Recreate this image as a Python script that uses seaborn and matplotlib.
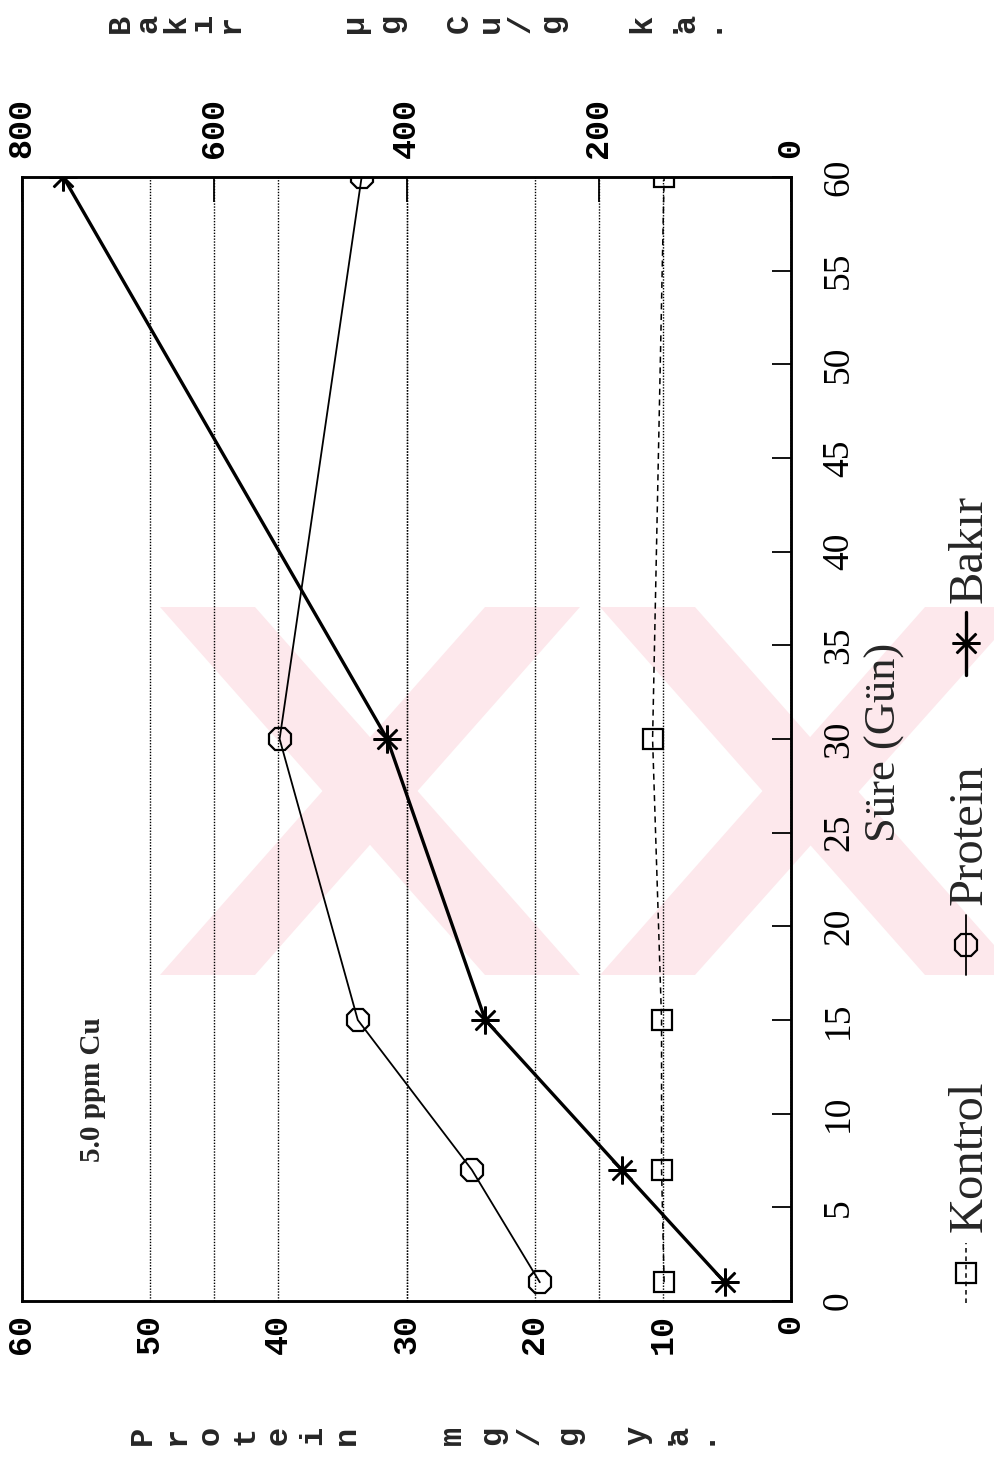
import matplotlib
matplotlib.use("Agg")
import matplotlib.pyplot as plt
from matplotlib.lines import Line2D
from matplotlib.patches import Polygon
from matplotlib.font_manager import FontProperties
import pandas as pd
import seaborn as sns

# Sampling days and measured values
days = [1, 7, 15, 30, 60]
protein = [19.6, 24.9, 33.8, 39.9, 33.5]      # Protein, mg/g y.a.
kontrol = [9.9, 10.1, 10.1, 10.8, 9.9]        # Kontrol protein, mg/g y.a.
bakir = [69, 176, 318, 420, 757]              # Bakır, µg Cu/g k.a.

protein_ticks = [0, 10, 20, 30, 40, 50, 60]
bakir_ticks = [0, 200, 400, 600, 800]
day_ticks = list(range(0, 65, 5))

sns.set_theme(style="white")
plt.rcParams["font.family"] = ["Liberation Serif", "DejaVu Serif"]

W, H = 994, 1460
fig = plt.figure(figsize=(W / 100, H / 100), dpi=100)
renderer = fig.canvas.get_renderer()


def fx(px):
    return px / W


def fy(py):
    return 1 - py / H


# Pale stamp in the background
stamp_color = "#fde8ec"
stamp_shapes = [
    [(160, 607), (255, 607), (580, 975), (485, 975)],
    [(485, 607), (580, 607), (255, 975), (160, 975)],
    [(600, 607), (695, 607), (994, 945), (994, 975), (925, 975)],
    [(925, 607), (994, 607), (994, 640), (695, 975), (600, 975)],
]
for pts in stamp_shapes:
    fig.add_artist(Polygon([(fx(x), fy(y)) for x, y in pts], closed=True,
                           transform=fig.transFigure, facecolor=stamp_color,
                           edgecolor="none", zorder=-5))

# The whole chart is laid out turned a quarter turn: days run upward on
# the right, protein / copper values run leftward.
ax = fig.add_axes([fx(22), fy(1301), fx(791 - 22), (1301 - 177) / H])
ax.set_facecolor("none")
ax.yaxis.tick_right()
ax2 = ax.twiny()
ax2.set_facecolor("none")

df = pd.DataFrame({"Gün": days, "Protein": protein,
                   "Kontrol": kontrol, "Bakır": bakir})

sns.lineplot(data=df, x="Kontrol", y="Gün", sort=False, estimator=None,
             orient="y", ax=ax, color="black", lw=1.1,
             linestyle=(0, (4, 3)), marker="s", markersize=14.5,
             markerfacecolor="none", markeredgecolor="black",
             markeredgewidth=1.6, zorder=3)
sns.lineplot(data=df, x="Protein", y="Gün", sort=False, estimator=None,
             orient="y", ax=ax, color="black", lw=1.3,
             marker="8", markersize=17, markerfacecolor="none",
             markeredgecolor="black", markeredgewidth=1.6, zorder=3)
sns.lineplot(data=df, x="Bakır", y="Gün", sort=False, estimator=None,
             orient="y", ax=ax2, color="black", lw=2.4,
             marker=(8, 2, 0), markersize=20, markeredgecolor="black",
             markeredgewidth=1.8, zorder=3)

ax.set_xlim(60, 0)
ax2.set_xlim(800, 0)
ax.set_ylim(0, 60)

mono = dict(family="Liberation Mono", weight="bold", size=24)

ax.set_xticks(protein_ticks)
ax.set_xticklabels([str(v) for v in protein_ticks], rotation=90, **mono)
ax.tick_params(axis="x", bottom=True, length=0, pad=9, colors="black")

ax2.set_xticks(bakir_ticks)
ax2.set_xticklabels([str(v) for v in bakir_ticks], rotation=90, **mono)
ax2.tick_params(axis="x", top=True, direction="in", length=18, width=1.3,
                pad=14, colors="black")

ax.set_yticks(day_ticks)
ax.set_yticklabels([str(v) for v in day_ticks], rotation=90, va="center",
                   family="Liberation Serif", size=27)
ax.tick_params(axis="y", right=True, left=False, direction="in", length=14,
               width=1.3, pad=22, colors="black")

for a in (ax, ax2):
    a.set_xlabel("")
    a.set_ylabel("")

grid_kw = dict(color="black", linestyle=(0, (1, 1.1)), linewidth=1.0)
ax.grid(axis="x", **grid_kw)
ax.grid(axis="y", visible=False)
ax2.grid(axis="x", **grid_kw)
ax2.grid(axis="y", visible=False)

for a in (ax, ax2):
    for s in a.spines.values():
        s.set_color("black")
        s.set_linewidth(1.8)
        s.set_visible(True)

# Stacked-letter axis titles: each word is one multi-line text, turned with
# the chart, so its lines read as a row of upright-turned letters.
label_font = FontProperties(family="Liberation Mono", weight="bold", size=23)
_, lp_h, lp_d = renderer.get_text_width_height_descent("lp", label_font,
                                                        ismath=False)


def stacked(word, x_first, x_last, y):
    n = len(word)
    pitch = (x_last - x_first) / (n - 1)
    ls = (pitch - lp_d) / (lp_h - lp_d)
    fig.text(fx((x_first + x_last) / 2 - 3), fy(y), "\n".join(word),
             rotation=90, ha="center", va="center", linespacing=ls,
             fontproperties=label_font)


stacked("Bakır", 124, 234, 23)
stacked("µg", 358, 394, 23)
stacked("Cu/g", 463, 555, 23)
stacked("k.a.", 645, 711, 23)

stacked("Protein", 146, 350, 1435)
stacked("mg/g", 456, 572, 1435)
stacked("y.a.", 640, 704, 1435)

fig.text(fx(885), fy(742), "Süre (Gün)", rotation=90, ha="center",
         va="center", family="Liberation Serif", size=32)

fig.text(fx(92), fy(1090), "5.0 ppm Cu", rotation=90, ha="center",
         va="center", family="Liberation Serif", weight="bold", size=21)

# Legend, laid out along the right edge
legend_items = [
    ("Kontrol", dict(linestyle=(0, (3, 2.5)), lw=1.1), "s",
     dict(markersize=14.5, markerfacecolor="none", markeredgewidth=1.6),
     (1303, 1243), 1232),
    ("Protein", dict(linestyle="-", lw=1.3), "8",
     dict(markersize=17, markerfacecolor="none", markeredgewidth=1.6),
     (975, 915), 905),
    ("Bakır", dict(linestyle="-", lw=2.4), (8, 2, 0),
     dict(markersize=20, markeredgewidth=1.8),
     (675, 612), 603),
]
lx = 966
for name, line_kw, mk, mk_kw, (y0, y1), ty in legend_items:
    fig.add_artist(Line2D([fx(lx), fx(lx)], [fy(y0), fy(y1)],
                          transform=fig.transFigure, color="black",
                          **line_kw))
    fig.add_artist(Line2D([fx(lx)], [fy((y0 + y1) / 2)],
                          transform=fig.transFigure, color="black",
                          linestyle="none", marker=mk,
                          markeredgecolor="black", **mk_kw))
    fig.text(fx(970), fy(ty), name, rotation=90, rotation_mode="anchor",
             ha="left", va="center", family="Liberation Serif", size=35)

fig.savefig("out.png", dpi=100, facecolor="white")
